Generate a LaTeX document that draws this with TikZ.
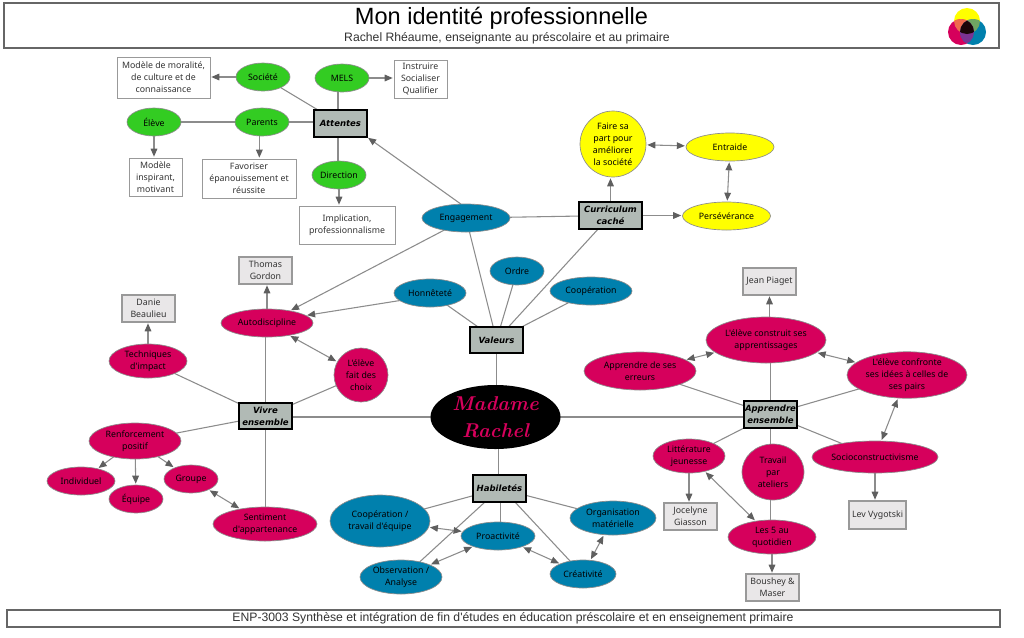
\documentclass[tikz,border=0pt]{standalone}
\usepackage{fontspec}
\newfontfamily\titlefont{Liberation Sans}
\newfontfamily\conceptfont{DejaVu Sans}
\newfontfamily\nodefont{Noto Sans}
\usetikzlibrary{shapes.geometric,arrows.meta,backgrounds}
\definecolor{cgreen}{HTML}{33CC22}
\definecolor{cblue}{HTML}{0080AD}
\definecolor{cmag}{HTML}{D6005C}
\definecolor{cyel}{HTML}{FFFF00}
\definecolor{cgrey}{HTML}{B1BAB5}
\definecolor{cline}{HTML}{8C8C8C}
\definecolor{ctip}{HTML}{5F5F5F}
\definecolor{cname}{HTML}{E9E7E8}
\definecolor{lor}{HTML}{EF6A4D}
\definecolor{lgr}{HTML}{6FA562}
\definecolor{lpu}{HTML}{7A3393}
\definecolor{lbk}{HTML}{1A0508}
\tikzset{
  x=0.75pt,y=-0.75pt,
  sz/.style 2 args={minimum width=#1*0.75pt,minimum height=#2*0.75pt},
  basenode/.style={inner sep=0pt,outer sep=0pt,align=center,font=\nodefont\fontsize{6.6}{9}\selectfont,text=black},
  ell/.style={basenode,ellipse,draw=black!45,line width=0.5pt},
  gr/.style={ell,fill=cgreen},
  bl/.style={ell,fill=cblue},
  mg/.style={ell,fill=cmag},
  ye/.style={ell,fill=cyel},
  txtbox/.style={basenode,rectangle,draw=black!40,line width=0.7pt,fill=white,text=black!80},
  namebox/.style={basenode,rectangle,draw=black!40,line width=0.8pt,fill=cname,text=black!80},
  concept/.style={basenode,rectangle,draw=black,line width=1.5pt,fill=cgrey,font=\conceptfont\bfseries\itshape\fontsize{6.4}{9}\selectfont,text=black},
  framebox/.style={rectangle,draw=black!60,line width=1pt,fill=white,inner sep=0pt},
  ln/.style={draw=cline,line width=0.8pt},
  ar/.style={ln,-{Triangle[length=6pt,width=5pt,color=ctip]},shorten >=1pt},
  dar/.style={ln,{Triangle[length=6pt,width=5pt,color=ctip]}-{Triangle[length=6pt,width=5pt,color=ctip]},shorten >=1pt,shorten <=1pt},
}
\begin{document}
\begin{tikzpicture}
\useasboundingbox (0,0) rectangle (1024,637);
% frames
\node[framebox,sz={995}{45}] (top) at (501.5,25.5) {};
\node[framebox,sz={993}{17}] (bot) at (503.5,618.5) {};
\node[font=\titlefont\fontsize{17.65}{20}\selectfont,text=black,inner sep=0pt] (ttl) at (501.5,18.5) {Mon identité professionnelle};
\node[font=\titlefont\fontsize{9.15}{11}\selectfont,text=black!80,inner sep=0pt] (sub) at (507,38.5) {Rachel Rhéaume, enseignante au préscolaire et au primaire};
\node[font=\titlefont\fontsize{9.15}{11}\selectfont,text=black!80,inner sep=0pt] (ftr) at (513,618.5) {ENP-3003 Synthèse et intégration de fin d'études en éducation préscolaire et en enseignement primaire};
% logo
\def\ya{(967,21) circle[radius=13]}
\def\ma{(961,32) circle[radius=13]}
\def\cy{(973,32) circle[radius=13]}
\fill[cyel] \ya;
\fill[cmag] \ma;
\fill[cblue] \cy;
\begin{scope}\clip \ya; \fill[lor] \ma; \end{scope}
\begin{scope}\clip \ya; \fill[lgr] \cy; \end{scope}
\begin{scope}\clip \ma; \fill[lpu] \cy; \end{scope}
\begin{scope}\clip \ya; \clip \ma; \fill[lbk] \cy; \end{scope}
% Attentes group
\node[gr,sz={54}{28}] (soc) at (263,77) {Société};
\node[gr,sz={54}{28}] (mels) at (342,78) {MELS};
\node[txtbox,sz={93}{41}] (moral) at (163.5,77.5) {Modèle de moralité,\\de culture et de\\connaissance};
\node[txtbox,sz={53}{38}] (instr) at (420.5,79) {Instruire\\Socialiser\\Qualifier};
\node[gr,sz={54}{28}] (elv) at (154,122) {Élève};
\node[gr,sz={54}{28}] (par) at (262,122) {Parents};
\node[concept,sz={53}{27}] (att) at (340.5,123.5) {Attentes};
\node[txtbox,sz={53}{38}] (insp) at (155.5,177) {Modèle\\inspirant,\\motivant};
\node[txtbox,sz={94}{39}] (fav) at (249,178.5) {Favoriser\\épanouissement et\\réussite};
\node[gr,sz={54}{28}] (dir) at (339,175) {Direction};
\node[txtbox,sz={96}{38}] (impl) at (347,225) {Implication,\\professionnalisme};
\node[bl,sz={88}{28}] (eng) at (466,218) {Engagement};
% Curriculum group
\node[ye,sz={66}{66}] (fair) at (613,144) {Faire sa\\part pour\\améliorer\\la société};
\node[ye,sz={88}{28}] (entr) at (730,147) {Entraide};
\node[ye,sz={88}{28}] (pers) at (726.5,216) {Persévérance};
\node[concept,sz={63}{27}] (curr) at (610.5,215.5) {Curriculum\\caché};
% Vivre ensemble group
\node[namebox,sz={53}{27}] (thom) at (265.5,270.5) {Thomas\\Gordon};
\node[namebox,sz={53}{27}] (dani) at (148.5,308.5) {Danie\\Beaulieu};
\node[mg,sz={92}{28}] (auto) at (267,323) {Autodiscipline};
\node[bl,sz={72}{28}] (honn) at (430,293) {Honnêteté};
\node[mg,sz={78}{34}] (tech) at (148,361) {Techniques\\d'impact};
\node[mg,sz={54}{54}] (choi) at (361,375) {L'élève\\fait des\\choix};
\node[concept,sz={53}{26}] (viv) at (265.5,416) {Vivre\\ensemble};
\node[mg,sz={92}{36}] (renf) at (135,441) {Renforcement\\positif};
\node[mg,sz={68}{28}] (indi) at (81,481) {Individuel};
\node[mg,sz={54}{28}] (equi) at (136,499) {Équipe};
\node[mg,sz={54}{28}] (grou) at (191,479) {Groupe};
\node[mg,sz={104}{34}] (sent) at (265,524) {Sentiment\\d'appartenance};
% Centre
\node[concept,sz={53}{26}] (val) at (496.5,340) {Valeurs};
\node[ellipse,fill=black,inner sep=0pt,outer sep=0pt,sz={130}{64},align=center,text=cmag,font=\rmfamily\itshape\bfseries\fontsize{15}{20}\selectfont] (mad) at (495.5,417) {Madame\\Rachel};
\node[bl,sz={54}{28}] (ordr) at (517,271) {Ordre};
\node[bl,sz={82}{28}] (coop) at (591,291) {Coopération};
\node[concept,sz={53}{27}] (hab) at (499.5,488.5) {Habiletés};
\node[bl,sz={100}{52}] (ctrv) at (380,521) {Coopération /\\travail d'équipe};
\node[bl,sz={74}{28}] (proa) at (498,536) {Proactivité};
\node[bl,sz={82}{34}] (obsv) at (401,577) {Observation /\\Analyse};
\node[bl,sz={86}{34}] (orga) at (613,518) {Organisation\\matérielle};
\node[bl,sz={66}{28}] (crea) at (583,574) {Créativité};
% Apprendre group
\node[concept,sz={53}{27}] (app) at (770.5,414.5) {Apprendre\\ensemble};
\node[mg,sz={120}{46}] (cons) at (766,340) {L'élève construit ses\\apprentissages};
\node[namebox,sz={53}{27}] (piag) at (769.5,281.5) {Jean Piaget};
\node[mg,sz={112}{38}] (err) at (640,371) {Apprendre de ses\\erreurs};
\node[mg,sz={120}{46}] (conf) at (907,375) {L'élève confronte\\ses idées à celles de\\ses pairs};
\node[mg,sz={72}{34}] (litt) at (689,456) {Littérature\\jeunesse};
\node[mg,sz={62}{56}] (trav) at (773,472) {Travail\\par\\ateliers};
\node[mg,sz={126}{32}] (soco) at (875,457) {Socioconstructivisme};
\node[namebox,sz={53}{27}] (joce) at (690.5,516.5) {Jocelyne\\Giasson};
\node[mg,sz={88}{34}] (cinq) at (772,537) {Les 5 au\\quotidien};
\node[namebox,sz={57}{28}] (lev) at (877.5,515) {Lev Vygotski};
\node[namebox,sz={53}{27}] (bous) at (772.5,587.5) {Boushey \&\\Maser};
% connectors
\begin{pgfonlayer}{background}
\fill[white] (0,0) rectangle (1024,637);
\draw[ln] (soc) -- (att);
\draw[ln] ([xshift=-1.9pt]att.center) -- ([xshift=-1.9pt]att.center |- mels.center);
\draw[ln] (elv.center) -- (par.center);
\draw[ln] (par.center) -- (par.center -| att.center);
\draw[ln] ([xshift=-1.9pt]att.center) -- ([xshift=-1.9pt]att.center |- dir.center);
\draw[ln] (eng) -- (curr);
\draw[ln] (eng) -- (val);
\draw[ln] (curr) -- (val);
\draw[ln] (honn) -- (val);
\draw[ln] (ordr) -- (val);
\draw[ln] (coop) -- (val);
\draw[ln] (val.center) -- (val.center |- mad.center);
\draw[ln,line width=1pt] (viv.center |- mad.center) -- (mad.center);
\draw[ln,line width=1pt] (mad.center) -- (mad.center -| app.center);
\draw[ln] ([xshift=-1pt]hab.center) -- ([xshift=-1pt]hab.center |- mad.center);
\draw[ln] (tech) -- (viv);
\draw[ln] (choi) -- (viv);
\draw[ln] (viv.center) -- (viv.center |- auto.center);
\draw[ln] (renf) -- (viv);
\draw[ln] (viv.center) -- (viv.center |- sent.center);
\draw[ln] (hab) -- (ctrv);
\draw[ln] ([xshift=1pt]hab.center) -- ([xshift=1pt]hab.center |- proa.center);
\draw[ln] ([xshift=-10.9pt]hab.south) -- (obsv.39);
\draw[ln] ([xshift=11.6pt]hab.south) -- (crea.135);
\draw[ln] (hab) -- (orga);
\draw[ln] (app) -- (err);
\draw[ln] (app.center) -- (app.center |- cons.center);
\draw[ln] (app) -- (conf);
\draw[ln] (app) -- (litt);
\draw[ln] (app.center) -- (app.center |- cinq.center);
\draw[ln] (app) -- (soco);
\draw[ar] (soc.center) -- (soc.center -| moral.east);
\draw[ar] (mels.center) -- (mels.center -| instr.west);
\draw[ar] (elv.center) -- (elv.center |- insp.north);
\draw[ar] ([xshift=-2pt]par.center) -- ([xshift=-2pt]par.center |- fav.north);
\draw[ar] (dir.center) -- (dir.center |- impl.north);
\draw[ar] (eng.110) -- (att.south east);
\draw[ar] (eng.209) -- (auto.28);
\draw[ar] (honn.194) -- (auto.11);
\draw[ar] (auto.center) -- (auto.center |- thom.south);
\draw[ar] (tech.center) -- (tech.center |- dani.south);
\draw[dar] (auto) -- (choi);
\draw[ar] (renf) -- (indi);
\draw[ar] (renf) -- (equi);
\draw[ar] (renf) -- (grou);
\draw[dar] (grou) -- (sent);
\draw[dar] (ctrv) -- (proa);
\draw[dar] (obsv) -- (proa);
\draw[dar] (proa) -- (crea);
\draw[dar] (crea) -- (orga);
\draw[ar] (curr.center) -- (curr.center |- fair.south);
\draw[ar] (curr.center) -- (curr.center -| pers.west);
\draw[dar] (fair) -- (entr);
\draw[dar] (entr) -- (pers);
\draw[ar] (piag.south |- cons.center) -- (piag.south);
\draw[dar] (err) -- (cons);
\draw[dar] (cons) -- (conf);
\draw[dar] (conf) -- (soco);
\draw[ar] (soco.center) -- (soco.center |- lev.north);
\draw[ar] (litt.center) -- (litt.center |- joce.north);
\draw[dar] (litt) -- (cinq);
\draw[ar] (cinq.center) -- (cinq.center |- bous.north);
\end{pgfonlayer}
\end{tikzpicture}
\end{document}
